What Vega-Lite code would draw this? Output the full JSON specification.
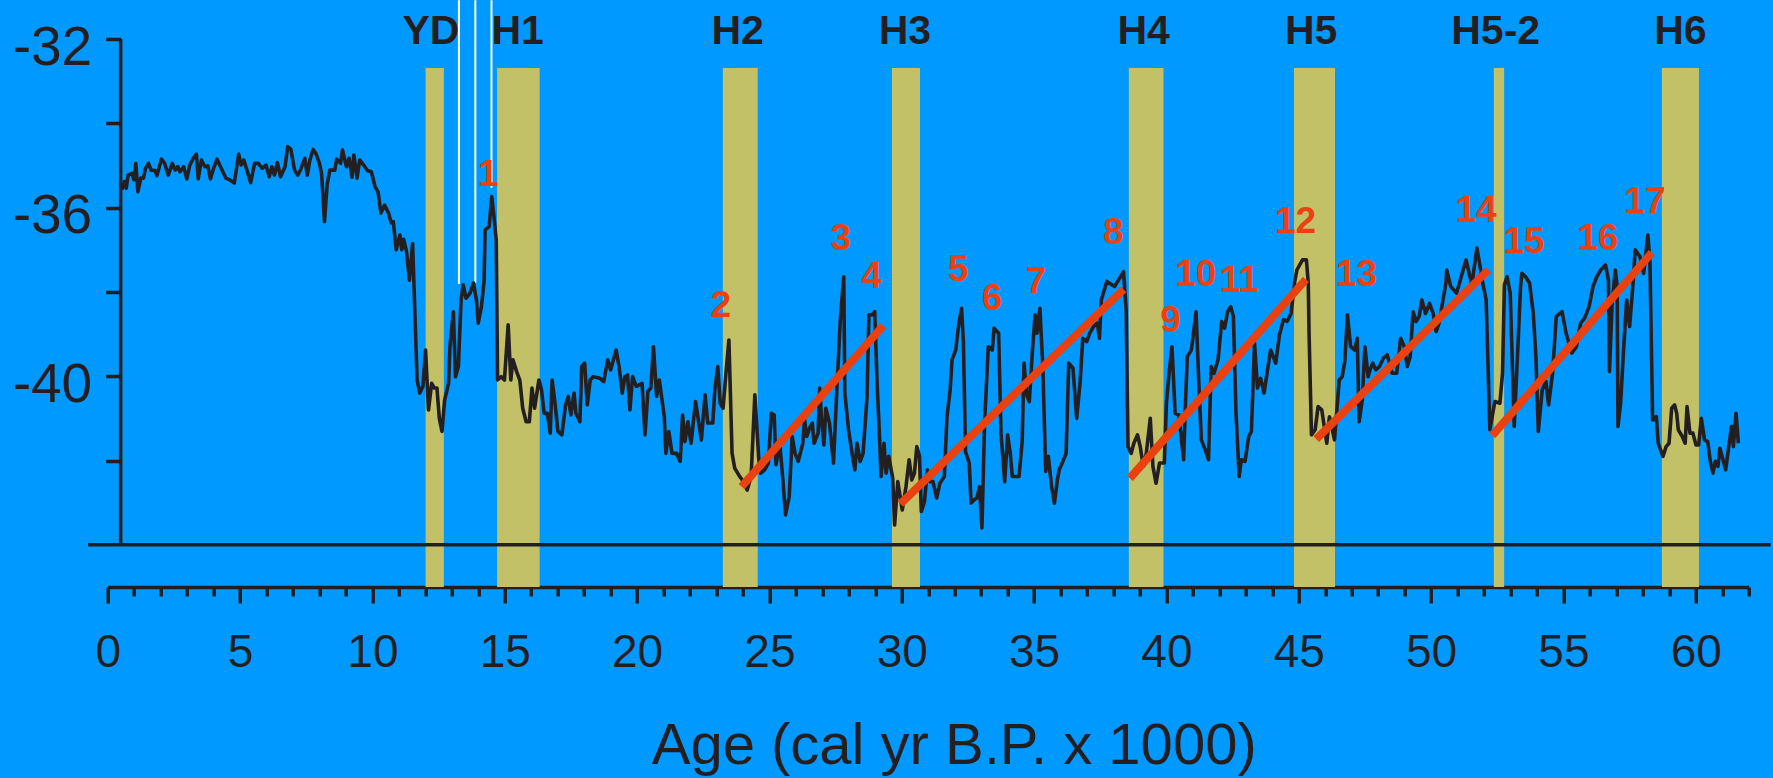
{
  "$schema": "https://vega.github.io/schema/vega-lite/v6.json",
  "autosize": {"type": "none"},
  "width": 1641,
  "height": 548,
  "padding": {"left": 107.7, "top": 39, "right": 24.3, "bottom": 191},
  "background": "#0099FF",
  "config": {"view": {"stroke": null}, "font": "Liberation Sans"},
  "datasets": {
    "bands": [
      {"name": "YD", "start": 12.01, "end": 12.70},
      {"name": "H1", "start": 14.71, "end": 16.32},
      {"name": "H2", "start": 23.24, "end": 24.56},
      {"name": "H3", "start": 29.63, "end": 30.69},
      {"name": "H4", "start": 38.58, "end": 39.89},
      {"name": "H5", "start": 44.82, "end": 46.37},
      {"name": "H5-2", "start": 52.37, "end": 52.76},
      {"name": "H6", "start": 58.72, "end": 60.12}
    ],
    "hlabels": [
      {"label": "YD", "age": 12.21},
      {"label": "H1", "age": 15.49},
      {"label": "H2", "age": 23.80},
      {"label": "H3", "age": 30.12},
      {"label": "H4", "age": 39.14},
      {"label": "H5", "age": 45.47},
      {"label": "H5-2", "age": 52.44},
      {"label": "H6", "age": 59.42}
    ],
    "white": [
      {"age": 13.27, "top": -31.08, "bottom": -37.81},
      {"age": 13.89, "top": -31.08, "bottom": -37.78},
      {"age": 14.50, "top": -31.08, "bottom": -35.53}
    ],
    "nlabels": [
      {"n": "1", "age": 14.37, "v": -35.48},
      {"n": "2", "age": 23.16, "v": -38.60},
      {"n": "3", "age": 27.70, "v": -37.00},
      {"n": "4", "age": 28.86, "v": -37.91},
      {"n": "5", "age": 32.14, "v": -37.74},
      {"n": "6", "age": 33.41, "v": -38.44},
      {"n": "7", "age": 35.07, "v": -38.03},
      {"n": "8", "age": 37.99, "v": -36.87},
      {"n": "9", "age": 40.16, "v": -38.94},
      {"n": "10", "age": 41.11, "v": -37.87},
      {"n": "11", "age": 42.75, "v": -37.99},
      {"n": "12", "age": 44.88, "v": -36.61},
      {"n": "13", "age": 47.18, "v": -37.85},
      {"n": "14", "age": 51.70, "v": -36.33},
      {"n": "15", "age": 53.51, "v": -37.08},
      {"n": "16", "age": 56.30, "v": -37.00},
      {"n": "17", "age": 58.08, "v": -36.13}
    ],
    "trends": [
      {"a1": 23.95, "v1": -42.62, "a2": 29.30, "v2": -38.80},
      {"a1": 29.95, "v1": -43.03, "a2": 38.38, "v2": -37.94},
      {"a1": 38.62, "v1": -42.42, "a2": 45.27, "v2": -37.70},
      {"a1": 45.66, "v1": -41.49, "a2": 52.16, "v2": -37.48},
      {"a1": 52.31, "v1": -41.41, "a2": 58.34, "v2": -37.07}
    ],
    "curve": [
      {"age":0.53,"v":-35.58},{"age":0.63,"v":-35.38},{"age":0.70,"v":-35.54},{"age":0.77,"v":-35.23},{"age":0.92,"v":-35.19},{"age":0.99,"v":-35.34},{"age":1.06,"v":-34.95},{"age":1.14,"v":-35.62},{"age":1.25,"v":-35.30},{"age":1.35,"v":-35.30},{"age":1.43,"v":-35.07},{"age":1.54,"v":-34.95},{"age":1.64,"v":-35.11},{"age":1.79,"v":-35.12},{"age":1.86,"v":-35.24},{"age":2.03,"v":-34.85},{"age":2.15,"v":-34.95},{"age":2.29,"v":-35.23},{"age":2.44,"v":-34.95},{"age":2.55,"v":-35.11},{"age":2.65,"v":-35.03},{"age":2.73,"v":-35.15},{"age":2.87,"v":-35.03},{"age":2.99,"v":-35.32},{"age":3.10,"v":-35.00},{"age":3.23,"v":-34.83},{"age":3.35,"v":-34.73},{"age":3.42,"v":-35.32},{"age":3.54,"v":-34.87},{"age":3.67,"v":-35.03},{"age":3.78,"v":-35.01},{"age":3.88,"v":-35.32},{"age":4.00,"v":-35.07},{"age":4.13,"v":-34.85},{"age":4.32,"v":-35.11},{"age":4.46,"v":-35.30},{"age":4.61,"v":-35.34},{"age":4.78,"v":-35.42},{"age":4.95,"v":-34.73},{"age":5.04,"v":-34.99},{"age":5.14,"v":-34.87},{"age":5.26,"v":-35.11},{"age":5.40,"v":-35.41},{"age":5.55,"v":-34.95},{"age":5.69,"v":-34.95},{"age":5.84,"v":-35.07},{"age":5.98,"v":-34.99},{"age":6.10,"v":-35.27},{"age":6.20,"v":-35.03},{"age":6.30,"v":-35.23},{"age":6.41,"v":-34.93},{"age":6.53,"v":-35.27},{"age":6.70,"v":-35.03},{"age":6.80,"v":-34.55},{"age":6.92,"v":-34.62},{"age":7.06,"v":-35.11},{"age":7.18,"v":-35.23},{"age":7.28,"v":-35.11},{"age":7.35,"v":-34.99},{"age":7.45,"v":-34.83},{"age":7.54,"v":-35.23},{"age":7.64,"v":-34.87},{"age":7.76,"v":-34.62},{"age":7.86,"v":-34.71},{"age":8.00,"v":-34.95},{"age":8.08,"v":-35.19},{"age":8.19,"v":-36.33},{"age":8.29,"v":-35.46},{"age":8.39,"v":-35.11},{"age":8.58,"v":-35.11},{"age":8.65,"v":-34.85},{"age":8.80,"v":-34.95},{"age":8.87,"v":-34.63},{"age":9.02,"v":-35.03},{"age":9.12,"v":-34.83},{"age":9.23,"v":-35.28},{"age":9.30,"v":-34.75},{"age":9.42,"v":-35.30},{"age":9.52,"v":-34.87},{"age":9.67,"v":-34.99},{"age":9.81,"v":-35.12},{"age":9.96,"v":-35.15},{"age":10.10,"v":-35.50},{"age":10.22,"v":-35.64},{"age":10.32,"v":-36.13},{"age":10.46,"v":-35.94},{"age":10.61,"v":-36.13},{"age":10.71,"v":-36.36},{"age":10.79,"v":-36.33},{"age":10.90,"v":-37.00},{"age":11.04,"v":-36.65},{"age":11.11,"v":-37.00},{"age":11.18,"v":-36.75},{"age":11.29,"v":-37.04},{"age":11.40,"v":-37.72},{"age":11.52,"v":-36.85},
      {"age":11.69,"v":-40.09},{"age":11.79,"v":-40.40},{"age":11.91,"v":-40.24},{"age":12.01,"v":-39.38},{"age":12.12,"v":-40.80},{"age":12.24,"v":-40.17},{"age":12.34,"v":-40.28},{"age":12.44,"v":-40.28},{"age":12.53,"v":-41.00},{"age":12.63,"v":-41.31},{"age":12.73,"v":-40.56},{"age":12.88,"v":-40.17},{"age":12.93,"v":-39.30},{"age":13.06,"v":-38.47},{"age":13.14,"v":-40.01},{"age":13.25,"v":-39.77},{"age":13.35,"v":-38.19},{"age":13.43,"v":-37.83},{"age":13.54,"v":-38.15},{"age":13.69,"v":-38.03},{"age":13.82,"v":-37.79},{"age":13.93,"v":-38.19},{"age":14.00,"v":-38.74},{"age":14.12,"v":-38.35},{"age":14.22,"v":-37.75},{"age":14.26,"v":-36.53},{"age":14.41,"v":-36.45},{"age":14.51,"v":-35.74},{"age":14.58,"v":-36.13},{"age":14.68,"v":-36.77},{"age":14.73,"v":-40.09},{"age":14.87,"v":-40.01},{"age":14.99,"v":-40.09},{"age":15.13,"v":-38.78},{"age":15.23,"v":-40.09},{"age":15.31,"v":-39.61},{"age":15.45,"v":-39.89},{"age":15.57,"v":-40.09},{"age":15.68,"v":-40.76},{"age":15.81,"v":-41.08},{"age":15.93,"v":-41.08},{"age":16.03,"v":-40.28},{"age":16.13,"v":-40.76},{"age":16.29,"v":-40.09},{"age":16.39,"v":-40.32},{"age":16.49,"v":-40.88},{"age":16.61,"v":-40.88},{"age":16.72,"v":-41.35},{"age":16.79,"v":-40.09},{"age":16.90,"v":-40.64},{"age":17.01,"v":-41.31},{"age":17.16,"v":-41.39},{"age":17.30,"v":-40.68},{"age":17.40,"v":-40.48},{"age":17.50,"v":-40.92},{"age":17.62,"v":-40.40},{"age":17.69,"v":-40.88},{"age":17.84,"v":-41.08},{"age":17.91,"v":-39.77},{"age":18.02,"v":-39.69},{"age":18.12,"v":-40.68},{"age":18.23,"v":-40.09},{"age":18.34,"v":-40.01},{"age":18.60,"v":-40.05},
      {"age":18.74,"v":-40.13},{"age":18.89,"v":-39.61},{"age":19.00,"v":-39.85},{"age":19.21,"v":-39.38},{"age":19.32,"v":-39.77},{"age":19.44,"v":-40.40},{"age":19.54,"v":-40.01},{"age":19.64,"v":-39.97},{"age":19.73,"v":-40.80},{"age":19.83,"v":-40.01},{"age":19.97,"v":-40.24},{"age":20.19,"v":-40.17},{"age":20.30,"v":-41.39},{"age":20.41,"v":-40.36},{"age":20.52,"v":-40.28},{"age":20.62,"v":-39.30},{"age":20.74,"v":-40.48},{"age":20.84,"v":-40.09},{"age":21.03,"v":-40.96},{"age":21.09,"v":-41.83},{"age":21.20,"v":-41.31},{"age":21.32,"v":-41.83},{"age":21.49,"v":-41.83},{"age":21.63,"v":-42.02},{"age":21.72,"v":-40.92},{"age":21.81,"v":-41.55},{"age":21.92,"v":-41.08},{"age":22.04,"v":-41.59},{"age":22.21,"v":-40.60},{"age":22.43,"v":-41.51},{"age":22.57,"v":-40.44},{"age":22.67,"v":-41.11},{"age":22.86,"v":-41.11},{"age":22.94,"v":-40.32},{"age":23.05,"v":-39.77},{"age":23.14,"v":-40.64},{"age":23.25,"v":-40.76},{"age":23.37,"v":-39.85},{"age":23.47,"v":-39.14},{"age":23.59,"v":-41.83},{"age":23.69,"v":-42.18},{"age":23.88,"v":-42.38},{"age":24.02,"v":-42.50},{"age":24.16,"v":-42.70},{"age":24.31,"v":-42.38},{"age":24.45,"v":-40.44},{"age":24.60,"v":-41.98},{"age":24.67,"v":-42.30},{"age":24.82,"v":-42.22},{"age":24.96,"v":-42.06},{"age":25.07,"v":-40.88},{"age":25.18,"v":-40.92},{"age":25.25,"v":-42.10},{"age":25.39,"v":-41.59},{"age":25.51,"v":-42.46},{"age":25.61,"v":-43.29},{"age":25.75,"v":-42.85},{"age":25.86,"v":-41.43},{"age":25.97,"v":-41.83},{"age":26.09,"v":-42.02},{"age":26.26,"v":-41.59},{"age":26.33,"v":-41.04},{"age":26.41,"v":-41.43},{"age":26.52,"v":-41.23},{"age":26.62,"v":-41.11},{"age":26.69,"v":-41.59},{"age":26.84,"v":-41.35},{"age":26.90,"v":-40.28},{"age":26.98,"v":-41.11},{"age":27.06,"v":-41.63},{"age":27.13,"v":-40.76},{"age":27.27,"v":-41.11},{"age":27.42,"v":-42.06},{"age":27.56,"v":-40.17},{"age":27.68,"v":-38.66},{"age":27.81,"v":-37.64},{"age":27.85,"v":-40.40},{"age":27.99,"v":-41.27},{"age":28.14,"v":-41.90},{"age":28.23,"v":-42.22},{"age":28.31,"v":-41.59},{"age":28.43,"v":-42.02},{"age":28.54,"v":-41.83},{"age":28.69,"v":-40.48},{"age":28.76,"v":-38.54},{"age":28.89,"v":-38.54},{"age":28.98,"v":-38.47},{"age":29.07,"v":-40.17},{"age":29.15,"v":-41.27},{"age":29.22,"v":-42.38},{"age":29.33,"v":-41.59},{"age":29.41,"v":-42.30},{"age":29.51,"v":-41.90},{"age":29.66,"v":-42.42},{"age":29.73,"v":-43.53},{"age":29.85,"v":-42.50},{"age":29.92,"v":-42.77},{"age":30.02,"v":-43.17},{"age":30.16,"v":-42.62},{"age":30.28,"v":-41.98},{"age":30.38,"v":-42.46},{"age":30.48,"v":-42.30},{"age":30.57,"v":-41.67},{"age":30.67,"v":-41.90},{"age":30.74,"v":-43.21},{"age":30.86,"v":-42.97},{"age":30.97,"v":-42.22},{"age":31.06,"v":-42.50},{"age":31.18,"v":-42.50},{"age":31.32,"v":-42.89},{"age":31.44,"v":-42.54},{"age":31.61,"v":-42.38},{"age":31.71,"v":-40.96},{"age":31.83,"v":-40.32},{"age":31.90,"v":-39.61},{"age":32.04,"v":-39.38},{"age":32.16,"v":-38.74},{"age":32.26,"v":-38.39},{"age":32.33,"v":-39.18},{"age":32.41,"v":-41.79},{"age":32.55,"v":-42.06},{"age":32.62,"v":-43.01},{"age":32.74,"v":-42.93},{"age":32.84,"v":-42.89},{"age":32.94,"v":-42.62},{"age":33.03,"v":-43.60},{"age":33.13,"v":-41.11},{"age":33.27,"v":-39.30},{"age":33.42,"v":-39.38},{"age":33.49,"v":-38.86},{"age":33.66,"v":-38.98},{"age":33.75,"v":-41.35},{"age":33.89,"v":-42.50},{"age":34.00,"v":-41.39},{"age":34.10,"v":-41.83},{"age":34.18,"v":-42.38},{"age":34.43,"v":-42.38},{"age":34.55,"v":-41.55},{"age":34.62,"v":-39.69},{"age":34.72,"v":-40.44},{"age":34.82,"v":-40.60},{"age":34.94,"v":-39.38},{"age":35.04,"v":-38.54},{"age":35.11,"v":-38.98},{"age":35.22,"v":-38.39},{"age":35.33,"v":-39.77},{"age":35.44,"v":-42.26},{"age":35.54,"v":-41.90},{"age":35.66,"v":-42.62},{"age":35.77,"v":-43.01},{"age":35.88,"v":-42.46},{"age":35.95,"v":-42.22},{"age":36.09,"v":-42.02},{"age":36.21,"v":-41.83},{"age":36.31,"v":-39.69},{"age":36.47,"v":-39.81},{"age":36.61,"v":-41.00},{"age":36.74,"v":-40.13},{"age":36.84,"v":-39.10},{"age":36.99,"v":-39.18},{"age":37.10,"v":-38.98},{"age":37.25,"v":-38.82},{"age":37.39,"v":-38.74},{"age":37.47,"v":-39.10},{"age":37.54,"v":-38.19},{"age":37.75,"v":-37.75},{"age":38.04,"v":-37.87},{"age":38.38,"v":-37.52},{"age":38.48,"v":-38.43},{"age":38.55,"v":-41.67},{"age":38.67,"v":-41.83},{"age":38.77,"v":-41.59},{"age":38.91,"v":-41.39},{"age":39.01,"v":-41.67},{"age":39.13,"v":-42.14},{"age":39.24,"v":-41.83},{"age":39.39,"v":-41.00},{"age":39.49,"v":-42.14},{"age":39.61,"v":-42.54},{"age":39.74,"v":-42.06},{"age":39.92,"v":-42.06},{"age":40.00,"v":-40.64},{"age":40.10,"v":-39.93},{"age":40.21,"v":-39.30},{"age":40.33,"v":-40.88},{"age":40.47,"v":-40.92},{"age":40.65,"v":-41.98},{"age":40.72,"v":-40.64},{"age":40.79,"v":-39.53},{"age":40.94,"v":-39.38},{"age":41.01,"v":-39.06},{"age":41.12,"v":-38.47},
      {"age":41.22,"v":-40.09},{"age":41.32,"v":-41.51},{"age":41.47,"v":-41.75},{"age":41.59,"v":-41.98},{"age":41.69,"v":-39.77},{"age":41.80,"v":-39.93},{"age":41.95,"v":-39.61},{"age":42.09,"v":-38.70},{"age":42.20,"v":-38.86},{"age":42.31,"v":-38.47},{"age":42.43,"v":-38.35},{"age":42.53,"v":-38.58},{"age":42.63,"v":-40.88},{"age":42.75,"v":-42.38},{"age":42.83,"v":-41.98},{"age":42.97,"v":-42.02},{"age":43.11,"v":-41.43},{"age":43.21,"v":-41.31},{"age":43.33,"v":-39.22},{"age":43.44,"v":-40.28},{"age":43.56,"v":-40.05},{"age":43.69,"v":-40.40},{"age":43.84,"v":-39.77},{"age":43.94,"v":-39.38},{"age":44.13,"v":-39.69},{"age":44.27,"v":-39.02},{"age":44.42,"v":-38.66},{"age":44.56,"v":-38.70},{"age":44.71,"v":-38.51},{"age":44.85,"v":-37.75},{"age":44.93,"v":-37.48},{"age":45.14,"v":-37.24},{"age":45.29,"v":-37.24},{"age":45.36,"v":-37.79},{"age":45.39,"v":-38.98},{"age":45.48,"v":-41.39},{"age":45.62,"v":-41.27},{"age":45.73,"v":-40.72},{"age":45.87,"v":-40.80},{"age":46.06,"v":-41.59},{"age":46.16,"v":-40.96},{"age":46.35,"v":-41.51},{"age":46.53,"v":-40.09},{"age":46.64,"v":-40.01},{"age":46.74,"v":-39.65},{"age":46.84,"v":-38.54},{"age":46.96,"v":-39.30},{"age":47.11,"v":-39.38},{"age":47.21,"v":-39.10},{"age":47.28,"v":-41.08},{"age":47.40,"v":-40.56},{"age":47.50,"v":-39.30},{"age":47.62,"v":-40.01},{"age":47.69,"v":-39.85},{"age":47.80,"v":-39.69},{"age":47.91,"v":-39.85},{"age":48.05,"v":-39.77},{"age":48.20,"v":-39.57},{"age":48.34,"v":-39.49},{"age":48.53,"v":-39.93},{"age":48.70,"v":-39.93},{"age":48.85,"v":-39.10},{"age":48.99,"v":-39.30},{"age":49.10,"v":-39.77},{"age":49.21,"v":-39.53},{"age":49.32,"v":-38.47},{"age":49.43,"v":-38.70},{"age":49.55,"v":-38.58},{"age":49.65,"v":-38.19},{"age":49.79,"v":-38.51},{"age":49.94,"v":-38.27},{"age":50.08,"v":-38.51},{"age":50.19,"v":-38.94},{"age":50.30,"v":-38.74},{"age":50.45,"v":-38.19},{"age":50.56,"v":-37.79},{"age":50.59,"v":-37.48},{"age":50.74,"v":-37.87},{"age":50.96,"v":-38.03},{"age":51.32,"v":-37.24},{"age":51.54,"v":-37.83},{"age":51.73,"v":-36.96},{"age":51.83,"v":-37.32},{"age":51.93,"v":-37.72},{"age":52.08,"v":-38.19},{"age":52.22,"v":-41.27},{"age":52.41,"v":-40.60},{"age":52.60,"v":-40.64},{"age":52.70,"v":-39.93},{"age":52.77,"v":-37.83},{"age":52.87,"v":-37.64},{"age":52.99,"v":-38.03},{"age":53.14,"v":-41.19},{"age":53.28,"v":-39.30},{"age":53.38,"v":-37.87},{"age":53.43,"v":-37.56},{"age":53.57,"v":-37.64},{"age":53.72,"v":-37.79},{"age":53.86,"v":-38.51},{"age":53.96,"v":-39.53},{"age":54.05,"v":-41.31},{"age":54.20,"v":-40.32},{"age":54.34,"v":-40.13},{"age":54.44,"v":-40.68},{"age":54.59,"v":-39.93},{"age":54.73,"v":-38.58},{"age":54.95,"v":-38.47},{"age":55.10,"v":-38.98},{"age":55.32,"v":-39.45},{"age":55.49,"v":-39.30},{"age":55.65,"v":-38.74},{"age":55.80,"v":-38.62},{"age":55.97,"v":-38.35},{"age":56.12,"v":-37.87},{"age":56.26,"v":-37.64},{"age":56.41,"v":-37.48},{"age":56.59,"v":-37.36},{"age":56.70,"v":-37.72},{"age":56.74,"v":-39.89},{"age":56.84,"v":-38.27},{"age":56.96,"v":-37.48},{"age":57.03,"v":-37.87},{"age":57.06,"v":-41.19},{"age":57.16,"v":-40.64},{"age":57.28,"v":-39.30},{"age":57.39,"v":-38.19},{"age":57.50,"v":-38.82},{"age":57.64,"v":-37.72},{"age":57.71,"v":-37.00},{"age":57.89,"v":-37.16},{"age":58.03,"v":-37.56},{"age":58.19,"v":-36.65},{"age":58.27,"v":-37.32},{"age":58.37,"v":-41.04},{"age":58.51,"v":-40.96},{"age":58.58,"v":-41.59},{"age":58.76,"v":-41.90},{"age":58.88,"v":-41.67},{"age":58.99,"v":-41.59},{"age":59.09,"v":-40.76},{"age":59.20,"v":-40.68},{"age":59.28,"v":-40.88},{"age":59.34,"v":-41.27},{"age":59.49,"v":-41.43},{"age":59.60,"v":-41.59},{"age":59.67,"v":-40.72},{"age":59.78,"v":-41.35},{"age":59.89,"v":-41.35},{"age":60.01,"v":-41.63},{"age":60.11,"v":-41.63},{"age":60.21,"v":-41.00},{"age":60.33,"v":-41.51},{"age":60.45,"v":-41.55},{"age":60.55,"v":-42.02},{"age":60.65,"v":-42.30},{"age":60.74,"v":-42.02},{"age":60.84,"v":-42.14},{"age":60.91,"v":-41.71},{"age":61.03,"v":-41.98},{"age":61.13,"v":-42.22},{"age":61.23,"v":-41.75},{"age":61.35,"v":-41.19},{"age":61.42,"v":-41.67},{"age":61.52,"v":-40.88},{"age":61.61,"v":-41.59}
    ]
  },
  "layer": [
    {
      "data": {"name": "curve"},
      "mark": {"type": "line", "color": "#231F20", "strokeWidth": 3.2, "strokeJoin": "round", "opacity": 0},
      "encoding": {
        "x": {
          "field": "age", "type": "quantitative",
          "scale": {"domain": [0, 62], "nice": false, "zero": false},
          "axis": {
            "title": "Age (cal yr B.P. x 1000)",
            "values": [0,1,2,3,4,5,6,7,8,9,10,11,12,13,14,15,16,17,18,19,20,21,22,23,24,25,26,27,28,29,30,31,32,33,34,35,36,37,38,39,40,41,42,43,44,45,46,47,48,49,50,51,52,53,54,55,56,57,58,59,60,61,62],
            "tickCount": 200,
            "labelExpr": "datum.value % 5 === 0 ? '' + datum.value : ''",
            "tickSize": {"condition": {"test": "datum.value % 5 === 0", "value": 16}, "value": 9},
            "tickWidth": 3.5, "tickColor": "#231F20",
            "domainColor": "#231F20", "domainWidth": 3.5,
            "grid": false,
            "labelFont": "Liberation Sans", "labelFontSize": 46, "labelColor": "#231F20",
            "labelBaseline": "alphabetic", "labelPadding": 63,
            "labelOverlap": false, "labelFlush": false, "labelBound": false,
            "titleFont": "Liberation Sans", "titleFontSize": 58, "titleFontWeight": "normal", "titleColor": "#231F20",
            "titleX": 846, "titleY": 176, "titleBaseline": "alphabetic", "titleAlign": "center"
          }
        },
        "y": {
          "field": "v", "type": "quantitative",
          "scale": {"domain": [-45, -32], "nice": false, "zero": false},
          "axis": {
            "title": "", "orient": "left", "offset": -13,
            "values": [-32, -34, -36, -38, -40, -42],
            "tickCount": 50,
            "labelExpr": "datum.value % 4 === 0 ? '-' + abs(datum.value) : ''",
            "domain": false, "grid": false,
            "tickSize": 15, "tickWidth": 3.5, "tickColor": "#231F20",
            "labelFont": "Liberation Sans", "labelFontSize": 55, "labelColor": "#231F20",
            "labelPadding": 14, "labelOffset": 8, "labelBaseline": "middle",
            "labelOverlap": false, "labelFlush": false, "labelBound": false
          }
        }
      }
    },
    {
      "data": {"name": "bands"},
      "mark": {"type": "rect", "color": "#C2C168"},
      "encoding": {
        "x": {"field": "start", "type": "quantitative"},
        "x2": {"field": "end"},
        "y": {"datum": -32.69, "type": "quantitative"},
        "y2": {"datum": -45}
      }
    },
    {
      "data": {"name": "white"},
      "mark": {"type": "rule", "color": "#FFFFFF", "strokeWidth": 2},
      "encoding": {
        "x": {"field": "age", "type": "quantitative"},
        "y": {"field": "top", "type": "quantitative"},
        "y2": {"field": "bottom"}
      }
    },
    {
      "data": {"values": [{}]},
      "mark": {"type": "rule", "color": "#231F20", "strokeWidth": 3.5},
      "encoding": {
        "x": {"datum": -0.74, "type": "quantitative"},
        "x2": {"datum": 62.83},
        "y": {"datum": -44, "type": "quantitative"}
      }
    },
    {
      "data": {"values": [{}]},
      "mark": {"type": "rule", "color": "#231F20", "strokeWidth": 3.5},
      "encoding": {
        "x": {"datum": 0.49, "type": "quantitative"},
        "y": {"datum": -32, "type": "quantitative"},
        "y2": {"datum": -44}
      }
    },
    {
      "data": {"name": "curve"},
      "mark": {"type": "line", "color": "#231F20", "strokeWidth": 3.6, "strokeJoin": "round"},
      "encoding": {
        "x": {"field": "age", "type": "quantitative"},
        "y": {"field": "v", "type": "quantitative"}
      }
    },
    {
      "data": {"name": "trends"},
      "mark": {"type": "rule", "color": "#EA4110", "strokeWidth": 8, "strokeCap": "butt"},
      "encoding": {
        "x": {"field": "a1", "type": "quantitative"},
        "y": {"field": "v1", "type": "quantitative"},
        "x2": {"field": "a2"},
        "y2": {"field": "v2"}
      }
    },
    {
      "data": {"name": "hlabels"},
      "mark": {"type": "text", "font": "Liberation Sans", "fontWeight": "bold", "fontSize": 41, "color": "#231F20", "align": "center", "baseline": "alphabetic"},
      "encoding": {
        "x": {"field": "age", "type": "quantitative"},
        "y": {"datum": -32.12, "type": "quantitative"},
        "text": {"field": "label"}
      }
    },
    {
      "data": {"name": "nlabels"},
      "mark": {"type": "text", "font": "Liberation Sans", "fontWeight": "bold", "fontSize": 37, "color": "#EA4110", "align": "center", "baseline": "alphabetic"},
      "encoding": {
        "x": {"field": "age", "type": "quantitative"},
        "y": {"field": "v", "type": "quantitative"},
        "text": {"field": "n"}
      }
    }
  ]
}
